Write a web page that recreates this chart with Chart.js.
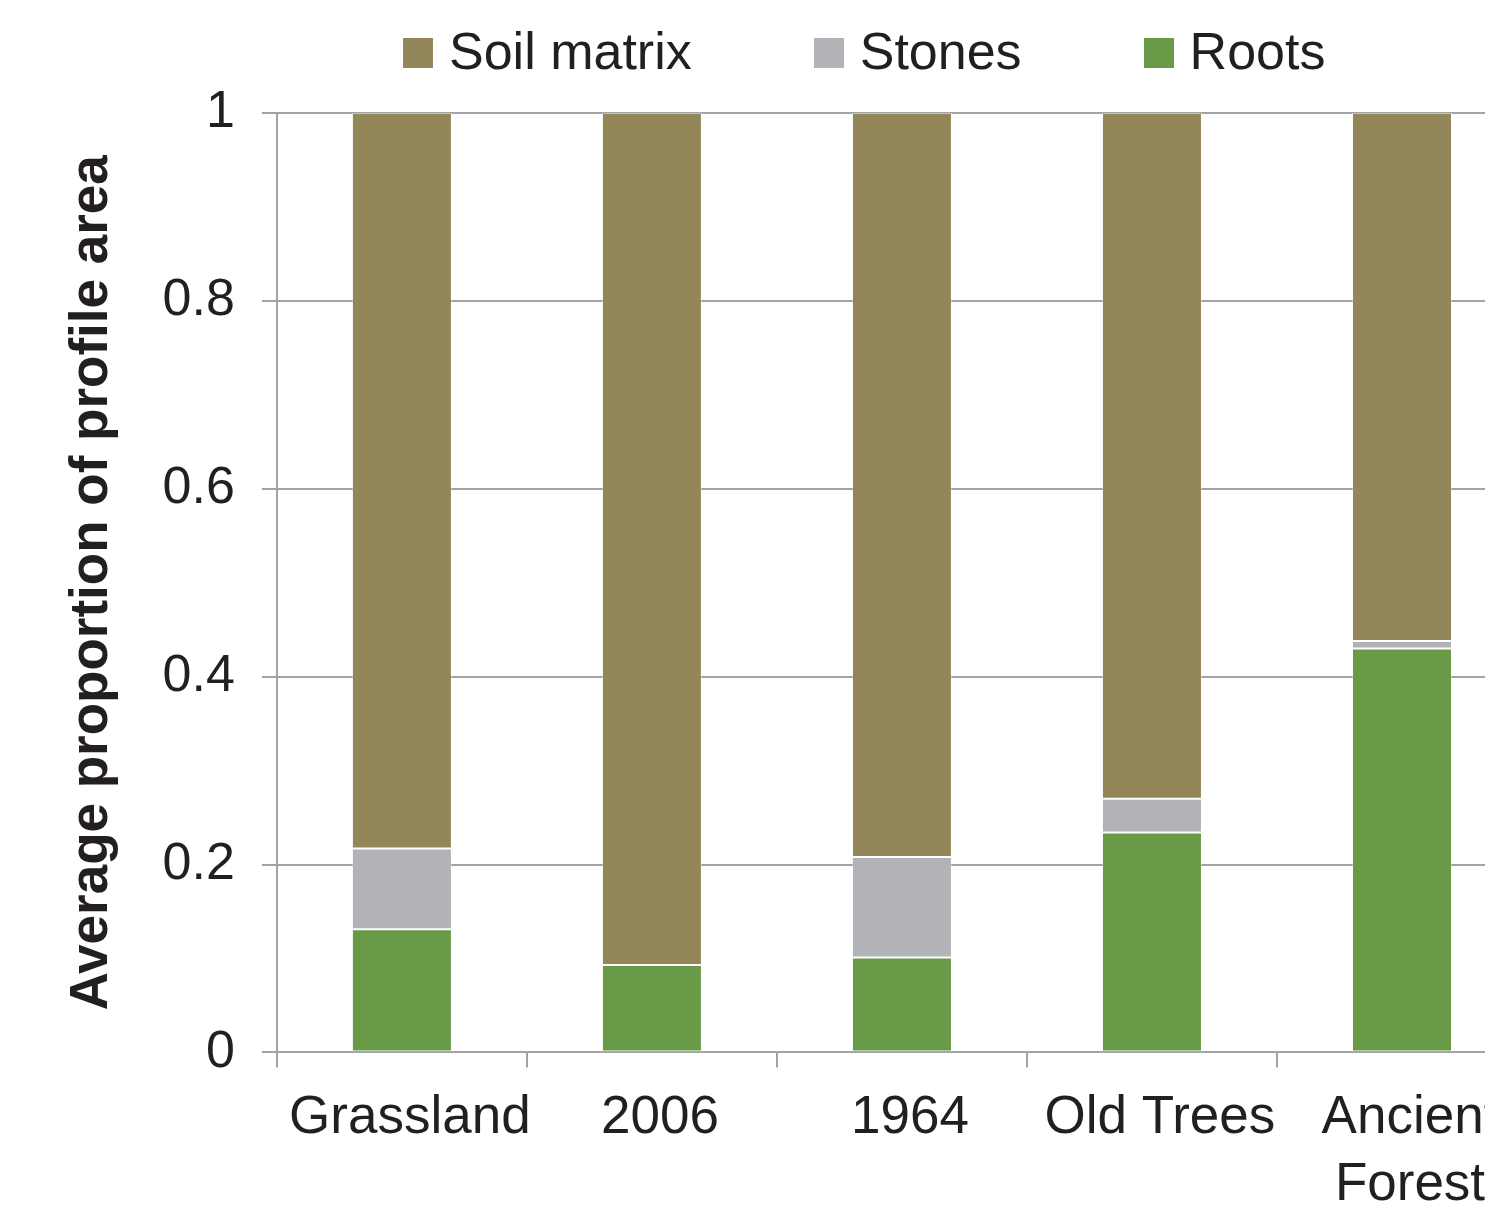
<!DOCTYPE html>
<html>
<head>
<meta charset="utf-8">
<script src="https://cdn.jsdelivr.net/npm/chart.js@4.4.1/dist/chart.umd.min.js"></script>
<style>
  html, body { margin: 0; padding: 0; background: #fff; overflow: hidden; }
  #wrap { position: relative; width: 1530px; height: 1237px; }
  #legend {
    position: absolute; left: 403px; top: 25px;
    display: flex; align-items: center;
    font-family: "Liberation Sans", Arial, sans-serif; font-size: 52px; line-height: 52px;
    color: #231f20; white-space: nowrap;
  }
  .lg-item { display: flex; align-items: center; margin-right: 122px; }
  .lg-item:last-child { margin-right: 0; }
  .lg-box { width: 30px; height: 30px; margin-right: 16px; margin-top: 4px; }
</style>
</head>
<body>
<div id="wrap">
  <canvas id="chart" width="1530" height="1237"></canvas>
  <div id="legend"></div>
</div>
<script>
'use strict';

// ---- Data ----
var categories = ['Grassland', '2006', '1964', 'Old Trees', ['Ancient', 'Forest']];
var rootsValues = [0.131, 0.093, 0.101, 0.234, 0.430];
var stonesValues = [0.086, 0.000, 0.107, 0.036, 0.008];
var soilValues = [0.783, 0.907, 0.792, 0.730, 0.562];
var yTickLabels = ['0', '0.2', '0.4', '0.6', '0.8', '1'];

var COLORS = { soil: '#938759', stones: '#b2b3b6', roots: '#689a47' };
var GRID = '#a2a3a5';
var TEXT = '#231f20';
var FONT = '"Liberation Sans", Arial, sans-serif';

// stacking order bottom -> top: roots, stones, soil
var datasets = [
  { label: 'Roots', data: rootsValues, backgroundColor: COLORS.roots },
  { label: 'Stones', data: stonesValues, backgroundColor: COLORS.stones },
  { label: 'Soil matrix', data: soilValues, backgroundColor: COLORS.soil }
].map(function(ds) {
  ds.borderColor = 'rgba(255,255,255,0.35)';
  ds.borderWidth = 1;
  ds.borderSkipped = false;
  ds.categoryPercentage = 1;
  ds.barPercentage = 0.4;
  return ds;
});

// ---- HTML legend (reference order: soil, stones, roots) ----
function renderLegend() {
  var el = document.getElementById('legend');
  var order = [2, 1, 0];
  el.innerHTML = order.map(function(i) {
    var ds = datasets[i];
    return '<div class="lg-item"><div class="lg-box" style="background:' + ds.backgroundColor + '"></div>' +
      '<span>' + escHtml(ds.label) + '</span></div>';
  }).join('');
}

function escHtml(str) {
  return String(str).replace(/&/g, '&amp;').replace(/</g, '&lt;').replace(/>/g, '&gt;');
}

renderLegend();

new Chart(document.getElementById('chart'), {
  type: 'bar',
  data: { labels: categories, datasets: datasets },
  options: {
    responsive: false,
    animation: false,
    layout: { padding: { top: 113, left: 40, right: 3, bottom: 0 } },
    plugins: {
      legend: { display: false },
      tooltip: { enabled: false }
    },
    scales: {
      x: {
        stacked: true,
        grid: {
          offset: true,
          drawOnChartArea: false,
          drawTicks: true,
          tickLength: 15,
          tickColor: GRID,
          lineWidth: 2,
          color: GRID
        },
        border: { display: true, color: GRID, width: 2 },
        ticks: {
          color: TEXT,
          padding: 18,
          labelOffset: 8,
          maxRotation: 0,
          autoSkip: false,
          font: { family: FONT, size: 53, lineHeight: 1.26 }
        }
      },
      y: {
        stacked: true,
        min: 0,
        max: 1,
        grid: {
          color: GRID,
          lineWidth: 2,
          drawTicks: true,
          tickLength: 15,
          tickColor: GRID
        },
        border: { display: true, color: GRID, width: 2 },
        ticks: {
          stepSize: 0.2,
          color: TEXT,
          padding: 27,
          font: { family: FONT, size: 52, lineHeight: 1.2 },
          callback: function(value, index) { return yTickLabels[index]; }
        },
        title: {
          display: true,
          text: 'Average proportion of profile area',
          color: TEXT,
          padding: { top: 21, bottom: 11 },
          font: { family: FONT, size: 53, weight: 'bold', lineHeight: 1.2 }
        }
      }
    }
  }
});
</script>
</body>
</html>
